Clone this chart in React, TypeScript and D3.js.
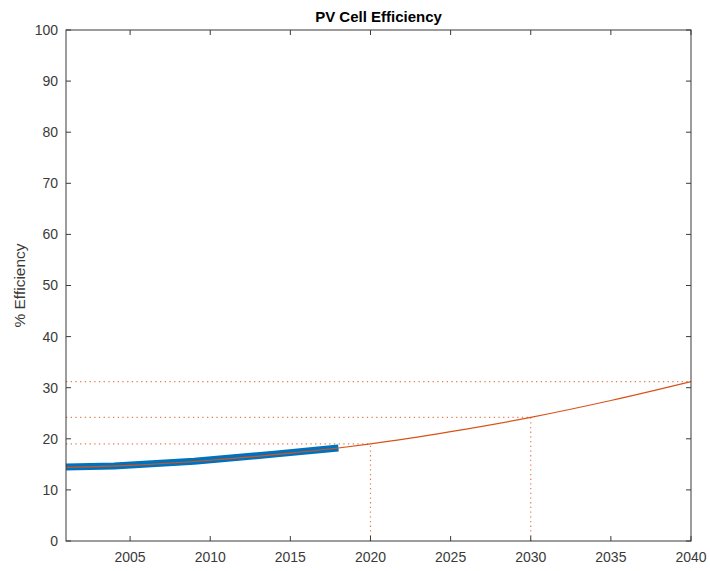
import React, { useRef, useEffect } from 'react';
import * as d3 from 'd3';

// measured efficiency (thick blue)
const measYears = [2001, 2004, 2009, 2014, 2018];
const measValues = [14.5, 14.7, 15.6, 17.0, 18.2];

// projection curve (thin orange)
const fitYears = [2001, 2005, 2010, 2015, 2018, 2020, 2025, 2030, 2035, 2040];
const fitValues = [14.4, 14.8, 15.8, 17.2, 18.2, 19.0, 21.4, 24.2, 27.5, 31.2];

// marked projection points (dotted guides)
const markYears = [2020, 2030, 2040];
const markValues = [19.0, 24.2, 31.2];

const xTicks = [2005, 2010, 2015, 2020, 2025, 2030, 2035, 2040];
const yTicks = [0, 10, 20, 30, 40, 50, 60, 70, 80, 90, 100];

const W = 710;
const H = 571;

const App = () => {
  const svgRef = useRef<SVGSVGElement | null>(null);

  useEffect(() => {
    const svg = d3.select(svgRef.current);
    svg.selectAll('*').remove();

    const m = { top: 30, right: 19, bottom: 30, left: 66 };
    const w = W - m.left - m.right;
    const h = H - m.top - m.bottom;
    const font = 'Liberation Sans, Arial, Helvetica, sans-serif';
    const axisColor = '#3a3a3a';
    const blue = '#0072BD';
    const orange = '#D95319';

    const x = d3.scaleLinear().domain([2001, 2040]).range([0, w]);
    const y = d3.scaleLinear().domain([0, 100]).range([h, 0]);

    svg.append('rect').attr('width', W).attr('height', H).attr('fill', '#fff');

    const g = svg.append('g').attr('transform', `translate(${m.left},${m.top})`);

    // dotted guides
    markYears.forEach((yr, i) => {
      const px = x(yr);
      const py = y(markValues[i]);
      g.append('line')
        .attr('x1', 0).attr('x2', px).attr('y1', py).attr('y2', py)
        .attr('stroke', orange).attr('stroke-width', 1.2).attr('stroke-opacity', 0.75)
        .attr('stroke-dasharray', '1.3 3.4');
      if (yr < 2040) {
        g.append('line')
          .attr('x1', px).attr('x2', px).attr('y1', h).attr('y2', py)
          .attr('stroke', orange).attr('stroke-width', 1.2).attr('stroke-opacity', 0.75)
          .attr('stroke-dasharray', '1.3 3.4');
      }
    });

    // measured thick line
    const measLine = d3.line<number>()
      .x((d, i) => x(measYears[i]))
      .y(d => y(d));
    g.append('path')
      .datum(measValues)
      .attr('fill', 'none')
      .attr('stroke', blue)
      .attr('stroke-width', 7)
      .attr('stroke-linejoin', 'round')
      .attr('d', measLine);

    // projection curve
    const fitLine = d3.line<number>()
      .x((d, i) => x(fitYears[i]))
      .y(d => y(d))
      .curve(d3.curveMonotoneX);
    g.append('path')
      .datum(fitValues)
      .attr('fill', 'none')
      .attr('stroke', orange)
      .attr('stroke-width', 1.2)
      .attr('d', fitLine);

    // box with inward ticks
    const tickLen = 5;
    const axes = g.append('g').attr('stroke', axisColor).attr('stroke-width', 1);
    axes.append('rect')
      .attr('x', 0).attr('y', 0).attr('width', w).attr('height', h)
      .attr('fill', 'none');
    xTicks.forEach(t => {
      const px = x(t);
      axes.append('line').attr('x1', px).attr('x2', px).attr('y1', h).attr('y2', h - tickLen);
      axes.append('line').attr('x1', px).attr('x2', px).attr('y1', 0).attr('y2', tickLen);
    });
    yTicks.forEach(t => {
      const py = y(t);
      axes.append('line').attr('x1', 0).attr('x2', tickLen).attr('y1', py).attr('y2', py);
      axes.append('line').attr('x1', w).attr('x2', w - tickLen).attr('y1', py).attr('y2', py);
    });

    // tick labels
    g.selectAll('.xl')
      .data(xTicks)
      .enter().append('text')
      .attr('x', d => x(d))
      .attr('y', h + 21)
      .attr('text-anchor', 'middle')
      .attr('font-family', font)
      .attr('font-size', 14)
      .attr('fill', axisColor)
      .text(d => String(d));

    g.selectAll('.yl')
      .data(yTicks)
      .enter().append('text')
      .attr('x', -8)
      .attr('y', d => y(d))
      .attr('dy', '0.35em')
      .attr('text-anchor', 'end')
      .attr('font-family', font)
      .attr('font-size', 14)
      .attr('fill', axisColor)
      .text(d => String(d));

    // y label
    g.append('text')
      .attr('transform', `translate(-41,${h / 2}) rotate(-90)`)
      .attr('text-anchor', 'middle')
      .attr('font-family', font)
      .attr('font-size', 15.5)
      .attr('fill', axisColor)
      .text('% Efficiency');

    // title
    g.append('text')
      .attr('x', w / 2)
      .attr('y', -8)
      .attr('text-anchor', 'middle')
      .attr('font-family', font)
      .attr('font-size', 15)
      .attr('font-weight', 'bold')
      .attr('fill', '#000')
      .text('PV Cell Efficiency');
  }, []);

  return (
    <svg ref={svgRef} width={W} height={H} style={{ display: 'block', position: 'absolute', left: 0, top: 0 }} />
  );
};

export default App;
